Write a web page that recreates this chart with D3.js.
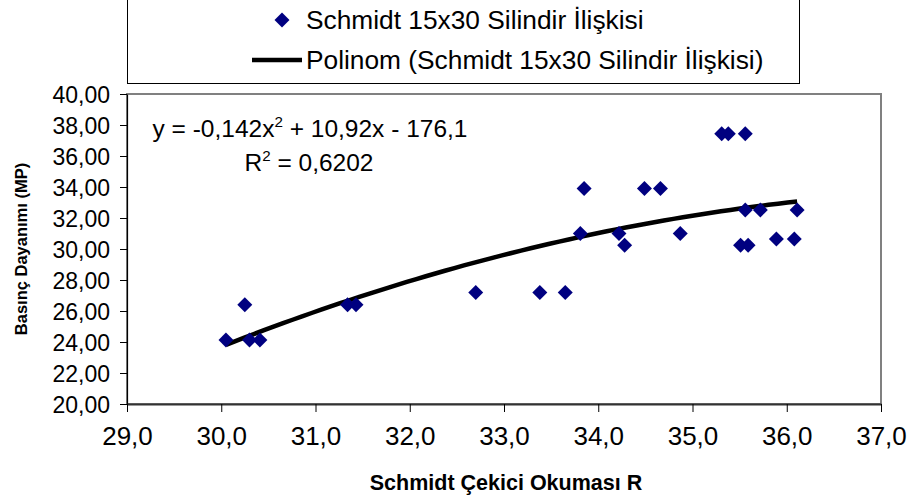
<!DOCTYPE html>
<html><head><meta charset="utf-8">
<script src="https://cdn.jsdelivr.net/npm/d3@7/dist/d3.min.js"></script>
<style>
body{margin:0;background:#fff}
text{font-family:Arial,"Liberation Sans",sans-serif;fill:#000}
</style>
</head><body>
<svg id="c" width="912" height="502"></svg>
<script>
// ---- data ----
const xValues = [30.05, 30.25, 30.30, 30.41, 31.34, 31.43, 32.70, 33.38, 33.65, 33.81, 33.85, 34.22, 34.28, 34.49, 34.66, 34.87, 35.31, 35.38, 35.56, 35.56, 35.72, 36.11, 35.51, 35.59, 35.89, 36.08];
const yValues = [24.13, 26.40, 24.13, 24.13, 26.40, 26.40, 27.20, 27.20, 27.20, 31.00, 33.90, 31.00, 30.24, 33.90, 33.90, 31.00, 37.44, 37.44, 37.44, 32.52, 32.52, 32.52, 30.24, 30.24, 30.65, 30.65];
const xTicks = [29, 30, 31, 32, 33, 34, 35, 36, 37];
const yTicks = [20, 22, 24, 26, 28, 30, 32, 34, 36, 38, 40];
const trendCoef = [-0.142, 10.92, -176.1]; // a x^2 + b x + c
const seriesName = "Schmidt 15x30 Silindir İlişkisi";
const trendName = "Polinom (Schmidt 15x30 Silindir İlişkisi)";
const eqLine1 = ["y = -0,142x", "2", " + 10,92x - 176,1"];
const eqLine2 = ["R", "2", " = 0,6202"];
const xTitle = "Schmidt Çekici Okuması R";
const yTitle = "Basınç Dayanımı (MP)";

// ---- layout ----
const W = 912, H = 502;
const plot = {l: 127, r: 881, t: 94, b: 404};
const svg = d3.select("#c");
svg.append("rect").attr("width", W).attr("height", H).attr("fill", "#fff");

const x = d3.scaleLinear().domain([29, 37]).range([plot.l, plot.r]);
const y = d3.scaleLinear().domain([20, 40]).range([plot.b, plot.t]);
const comma = f => v => d3.format(f)(v).replace(".", ",");

// plot frame (top/right grey)
svg.append("rect").attr("x", plot.l).attr("y", plot.t)
  .attr("width", plot.r - plot.l).attr("height", plot.b - plot.t)
  .attr("fill", "none").attr("stroke", "#808080").attr("stroke-width", 2);

// axes
const yAxis = svg.append("g").attr("transform", `translate(${plot.l},0)`)
  .call(d3.axisLeft(y).tickValues(yTicks).tickFormat(comma(".2f")).tickSize(7).tickSizeOuter(0).tickPadding(10));
const xAxis = svg.append("g").attr("transform", `translate(0,${plot.b})`)
  .call(d3.axisBottom(x).tickValues(xTicks).tickFormat(comma(".1f")).tickSize(8).tickSizeOuter(0).tickPadding(15));
[yAxis, xAxis].forEach(g => {
  g.selectAll("path.domain").attr("stroke", "#000").attr("stroke-width", 1.2);
  g.selectAll(".tick line").attr("stroke", "#000");
  g.selectAll("text").style("font-family", "Arial, 'Liberation Sans', sans-serif").attr("fill", "#000");
});
yAxis.selectAll("text").style("font-size", "23px").attr("dy", "0.36em");
xAxis.selectAll("text").style("font-size", "26px");
xAxis.select("path.domain").attr("stroke", "#333").attr("stroke-width", 2);

// trend line
const xs = d3.range(0, 61).map(i => d3.min(xValues) + (d3.max(xValues) - d3.min(xValues)) * i / 60);
const poly = v => trendCoef[0] * v * v + trendCoef[1] * v + trendCoef[2];
svg.append("path").datum(xs)
  .attr("d", d3.line().x(v => x(v)).y(v => y(poly(v))))
  .attr("fill", "none").attr("stroke", "#000").attr("stroke-width", 4.5);

// points
const diamond = d3.symbol(d3.symbolSquare, 112)();
svg.append("g").selectAll("path").data(xValues.map((v, i) => [v, yValues[i]])).join("path")
  .attr("d", diamond)
  .attr("transform", d => `translate(${x(d[0])},${y(d[1])}) rotate(45)`)
  .attr("fill", "#000080");

// equation
function supText(parts, cx, by, size) {
  const t = svg.append("text").attr("x", cx).attr("y", by).attr("text-anchor", "middle").style("font-size", size + "px");
  t.append("tspan").text(parts[0]);
  t.append("tspan").attr("dy", -size * 0.4).style("font-size", (size * 0.62) + "px").text(parts[1]);
  t.append("tspan").attr("dy", size * 0.4).text(parts[2]);
}
supText(eqLine1, 310, 137, 24.5);
supText(eqLine2, 309, 171, 24.5);

// legend
const lg = svg.append("g");
lg.append("rect").attr("x", 127.5).attr("y", -0.5).attr("width", 672).attr("height", 84)
  .attr("fill", "#fff").attr("stroke", "#000").attr("stroke-width", 1);
lg.append("path").attr("d", diamond).attr("transform", "translate(282,20) rotate(45)").attr("fill", "#000080");
lg.append("text").attr("x", 306).attr("y", 20).attr("dy", "0.36em").style("font-size", "26.3px").text(seriesName);
lg.append("line").attr("x1", 252).attr("x2", 302).attr("y1", 60).attr("y2", 60).attr("stroke", "#000").attr("stroke-width", 4.5);
lg.append("text").attr("x", 306).attr("y", 60).attr("dy", "0.36em").style("font-size", "26.3px").text(trendName);

// axis titles
svg.append("text").attr("x", (plot.l + plot.r) / 2 + 2).attr("y", 490).attr("text-anchor", "middle")
  .style("font-size", "21.5px").style("font-weight", "bold").text(xTitle);
svg.append("text").attr("transform", `translate(27,${(plot.t + plot.b) / 2}) rotate(-90)`).attr("text-anchor", "middle")
  .style("font-size", "16.5px").style("font-weight", "bold").text(yTitle);
</script>
</body></html>
